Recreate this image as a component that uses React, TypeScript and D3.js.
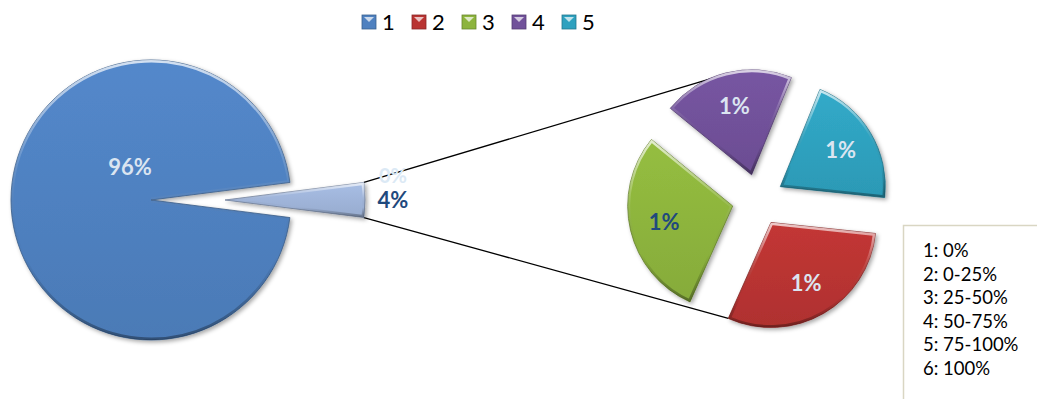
import React from "react";
import * as d3 from "d3";

const categories = ["1", "2", "3", "4", "5"];
const values = [96, 1.2, 1.17, 0.81, 0.82];
const colors = ["#4f81c0", "#b93432", "#8db43d", "#71519a", "#2ea1bf"];
const otherColor = "#9fb4d9";
const boxLines = ["1: 0%", "2: 0-25%", "3: 25-50%", "4: 50-75%", "5: 75-100%", "6: 100%"];
const extraLabel = "0%";
const labelColors = ["#dbe5f1", "#dbe5f1", "#1f497d", "#dbe5f1", "#dbe5f1"];

const W = 1037;
const H = 399;
const FONT = "Lato, 'Open Sans', sans-serif";

const deg = Math.PI / 180;
const polar = (cx: number, cy: number, r: number, a: number): [number, number] => [
  cx + r * Math.sin(a),
  cy - r * Math.cos(a),
];

export default function App() {
  const fmt = d3.format(".0%");
  // main pie
  const mc: [number, number] = [151, 200];
  const R1 = 140;
  const ex1 = 74;
  const other = d3.sum(values.slice(1));
  const total = values[0] + other;
  const otherAngle = (2 * Math.PI * other) / total;
  const start1 = Math.PI / 2 + otherAngle / 2;
  const mainArcs = d3
    .pie<number>()
    .sort(null)
    .startAngle(start1)
    .endAngle(start1 + 2 * Math.PI)([values[0], other]);
  const arc1 = d3.arc<d3.PieArcDatum<number>>().innerRadius(0).outerRadius(R1);

  // secondary pie
  const sc: [number, number] = [758, 200];
  const R2 = 105;
  const ex2 = 26;
  const start2 = 96 * deg;
  const secArcs = d3
    .pie<number>()
    .sort(null)
    .startAngle(start2)
    .endAngle(start2 + 2 * Math.PI)(values.slice(1));
  const arc2 = d3.arc<d3.PieArcDatum<number>>().innerRadius(0).outerRadius(R2);

  const mid = (a: d3.PieArcDatum<number>) => (a.startAngle + a.endAngle) / 2;

  const oa = mainArcs[1];
  const oc = polar(mc[0], mc[1], ex1, mid(oa));
  const upStart = polar(oc[0], oc[1], R1, oa.startAngle);
  const lowStart = polar(oc[0], oc[1], R1, oa.endAngle);
  const upEnd = polar(sc[0], sc[1], R2 + ex2 - 1, -20 * deg);
  const red = secArcs[0];
  const redC = polar(sc[0], sc[1], ex2, mid(red));
  const lowEnd = polar(redC[0], redC[1], R2, red.endAngle);

  const mainLabel = polar(mc[0], mc[1], R1 * 0.28, -32.5 * deg);
  const otherLabel = polar(oc[0], oc[1], R1 * 1.2, mid(oa));

  const sliceFill = (i: number) => `url(#g${i})`;
  const allColors = [...colors, otherColor];

  const bevel = (path: string, id: string) => (
    <g>
      <clipPath id={`clip-${id}`}>
        <path d={path} />
      </clipPath>
      <path d={path} fill="none" stroke="url(#hl)" strokeWidth={5} clipPath={`url(#clip-${id})`} />
    </g>
  );

  return (
    <svg
      width={W}
      height={H}
      style={{ position: "absolute", left: 0, top: 0, background: "#fff" }}
    >
      <defs>
        {allColors.map((c, i) => (
          <linearGradient key={i} id={`g${i}`} x1="0" y1="0" x2="0" y2="1">
            <stop offset="0%" stopColor={d3.color(c)!.brighter(0.15).formatHex()} />
            <stop offset="100%" stopColor={d3.color(c)!.darker(0.15).formatHex()} />
          </linearGradient>
        ))}
        <linearGradient id="hl" x1="0" y1="0" x2="0" y2="1">
          <stop offset="0%" stopColor="#ffffff" stopOpacity={0.75} />
          <stop offset="35%" stopColor="#ffffff" stopOpacity={0.15} />
          <stop offset="70%" stopColor="#000000" stopOpacity={0} />
          <stop offset="100%" stopColor="#000000" stopOpacity={0.35} />
        </linearGradient>
        <filter id="sh" x="-20%" y="-20%" width="140%" height="140%">
          <feDropShadow dx="2" dy="2" stdDeviation="2" floodColor="#000" floodOpacity="0.35" />
        </filter>
      </defs>

      {/* legend */}
      {categories.map((c, i) => {
        const x = 362 + i * 50;
        const y = 15;
        return (
          <g key={c}>
            <rect x={x} y={y} width={14} height={14} fill={colors[i]} stroke={d3.color(colors[i])!.darker(0.8).formatHex()} strokeWidth={0.8} />
            <path d={`M${x + 2},${y + 2}L${x + 12},${y + 2}L${x + 7},${y + 7}Z`} fill="#fff" opacity={0.7} />
            <text x={x + 20} y={y + 15} fontFamily={FONT} fontSize={22} fill="#000">
              {c}
            </text>
          </g>
        );
      })}

      {/* connector lines */}
      <line x1={upStart[0]} y1={upStart[1]} x2={upEnd[0]} y2={upEnd[1]} stroke="#000" strokeWidth={1.3} />
      <line x1={lowStart[0]} y1={lowStart[1]} x2={lowEnd[0]} y2={lowEnd[1]} stroke="#000" strokeWidth={1.3} />

      {/* main pie */}
      {mainArcs.map((a, i) => {
        const off = i === 1 ? polar(0, 0, ex1, mid(a)) : [0, 0];
        const p = arc1(a)!;
        const fillIdx = i === 1 ? colors.length : 0;
        return (
          <g key={i} transform={`translate(${mc[0] + off[0]},${mc[1] + off[1]})`}>
            <path
              d={p}
              fill={sliceFill(fillIdx)}
              stroke={d3.color(allColors[fillIdx])!.darker(1).formatHex()}
              strokeWidth={0.8}
              filter="url(#sh)"
            />
            {bevel(p, `m${i}`)}
          </g>
        );
      })}

      {/* secondary pie */}
      {secArcs.map((a, i) => {
        const off = polar(0, 0, ex2, mid(a));
        const p = arc2(a)!;
        return (
          <g key={i} transform={`translate(${sc[0] + off[0]},${sc[1] + off[1]})`}>
            <path
              d={p}
              fill={sliceFill(i + 1)}
              stroke={d3.color(colors[i + 1])!.darker(1).formatHex()}
              strokeWidth={0.8}
              filter="url(#sh)"
            />
            {bevel(p, `s${i}`)}
          </g>
        );
      })}

      {/* labels */}
      <text x={mainLabel[0]} y={mainLabel[1]} dy="0.35em" textAnchor="middle" fontFamily={FONT} fontWeight={700} fontSize={22} fill={labelColors[0]}>
        {fmt(values[0] / 100)}
      </text>
      <text x={otherLabel[0]} y={otherLabel[1] - 24} dy="0.35em" textAnchor="middle" fontFamily={FONT} fontWeight={700} fontSize={20} fill="#dbe9f5">
        {extraLabel}
      </text>
      <text x={otherLabel[0]} y={otherLabel[1]} dy="0.35em" textAnchor="middle" fontFamily={FONT} fontWeight={700} fontSize={22} fill="#1f497d">
        {fmt(other / 100)}
      </text>
      {secArcs.map((a, i) => {
        const c = polar(sc[0], sc[1], ex2, mid(a));
        const l = polar(c[0], c[1], R2 * 0.67, mid(a));
        return (
          <text key={i} x={l[0]} y={l[1]} dy="0.35em" textAnchor="middle" fontFamily={FONT} fontWeight={700} fontSize={22} fill={labelColors[i + 1]}>
            {fmt(values[i + 1] / 100)}
          </text>
        );
      })}

      {/* text box */}
      <rect x={903.5} y={225.5} width={200} height={200} fill="#fff" stroke="#d9d6c3" strokeWidth={1.5} />
      {boxLines.map((t, i) => (
        <text key={t} x={923} y={257 + i * 23.6} fontFamily={FONT} fontSize={18.5} fill="#000">
          {t}
        </text>
      ))}
    </svg>
  );
}
